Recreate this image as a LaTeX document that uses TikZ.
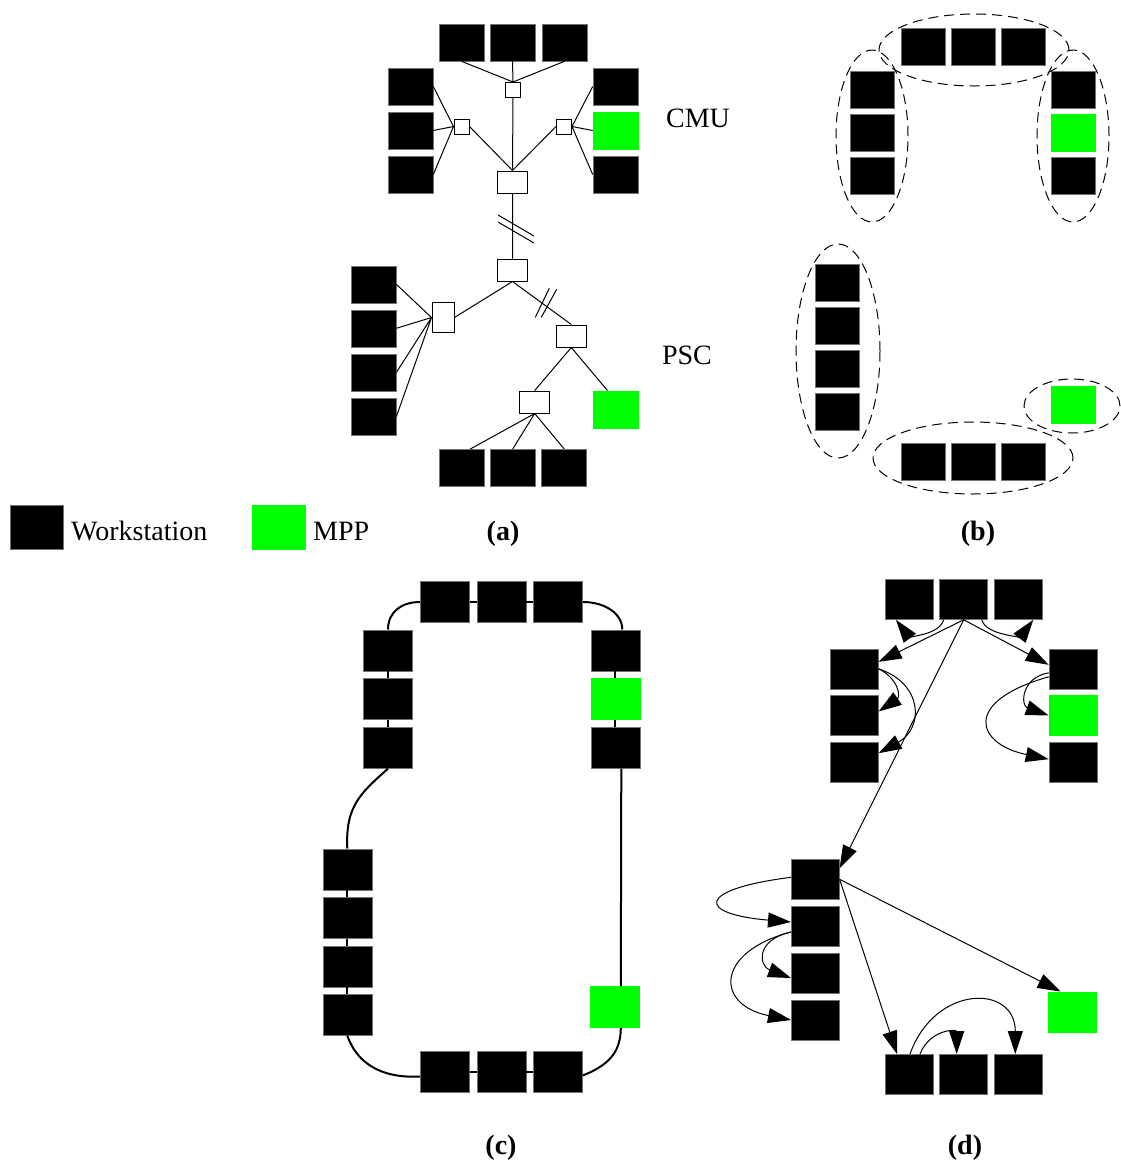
\documentclass[tikz,border=0pt]{standalone}
\usepackage{fontspec}
\setmainfont{Liberation Serif}
\usetikzlibrary{arrows.meta}
\definecolor{mppgreen}{RGB}{0,255,0}

\begin{document}
\begin{tikzpicture}[x=1pt,y=-1pt,
		lbl/.style={font=\fontsize{28}{34}\selectfont,inner sep=0pt},
		subcap/.style={font=\fontsize{28}{34}\selectfont\bfseries,inner sep=0pt,anchor=base},
		ws/.style={fill=black,draw=black!55,line width=0.6pt,inner sep=0pt},
		wsa/.style={ws,minimum width=45pt,minimum height=37pt},
		wsb/.style={ws,minimum width=44pt,minimum height=37pt},
		wsc/.style={ws,minimum width=49pt,minimum height=41pt},
		wsd/.style={ws,minimum width=48pt,minimum height=40pt},
		wsl/.style={ws,minimum width=53pt,minimum height=44pt},
		mpp/.style={fill=mppgreen,draw=mppgreen},
		hub/.style={draw,fill=white,line width=1pt,inner sep=0pt},
		hubs/.style={hub,minimum width=15pt,minimum height=15pt},
		rtr/.style={hub,minimum width=30pt,minimum height=22pt},
		rtv/.style={hub,minimum width=22pt,minimum height=30pt},
		link/.style={line width=1pt},
		grp/.style={line width=1pt,dash pattern=on 10pt off 6pt},
		ring/.style={line width=2pt},
		arr/.style={line width=1pt,-{Triangle[length=23pt,width=15pt]}}]
 		\useasboundingbox (0,0) rectangle (1120,1160);
 		% (a) CMU / PSC network
 		\node[wsa] (ta1) at (461.5,42.5) {};
 		\node[wsa] (ta2) at (512.5,42.5) {};
 		\node[wsa] (ta3) at (564.5,42.5) {};
 		\node[wsa] (la1) at (410.5,86.5) {};
 		\node[wsa] (la2) at (410.5,130.5) {};
 		\node[wsa] (la3) at (410.5,174.5) {};
 		\node[wsa] (ra1) at (615.5,86.5) {};
 		\node[wsa,mpp] (ra2) at (615.5,130.5) {};
 		\node[wsa] (ra3) at (615.5,174.5) {};
 		\node[hubs] (htop) at (513,90) {};
 		\node[hubs] (hleft) at (461.5,126.5) {};
 		\node[hubs] (hright) at (564,126.5) {};
 		\node[rtr] (rcmu) at (512.5,182) {};
 		\node[rtr] (rpsc) at (512.5,270) {};
 		\node[rtv] (rwest) at (443,317.5) {};
 		\node[rtr] (reast) at (571.3,336) {};
 		\node[rtr] (rlow) at (534.7,402) {};
 		\node[wsa] (pa1) at (373.5,284.3) {};
 		\node[wsa] (pa2) at (373.5,328.3) {};
 		\node[wsa] (pa3) at (373.5,372.5) {};
 		\node[wsa] (pa4) at (373.5,416.7) {};
 		\node[wsa,mpp] (pm) at (615.5,409.3) {};
 		\node[wsa] (pb1) at (461.3,467.8) {};
 		\node[wsa] (pb2) at (512.7,467.8) {};
 		\node[wsa] (pb3) at (564.2,467.8) {};
 		\draw[link] (ta1.south) -- (htop.north) (ta2.south) -- (htop.north) (ta3.south) -- (htop.north);
 		\draw[link] (htop.south) -- (rcmu.north) (hleft.east) -- (rcmu.north) (hright.west) -- (rcmu.north);
 		\draw[link] (la1.east) -- (hleft.west) (la2.east) -- (hleft.west) (la3.east) -- (hleft.west);
 		\draw[link] (hright.east) -- (ra1.west) (hright.east) -- (ra2.west) (hright.east) -- (ra3.west);
 		\draw[link] (rcmu.south) -- (rpsc.north) (rpsc.south) -- (rwest.east) (rpsc.south) -- (reast.north);
 		\draw[link] (rwest.west) -- (pa1.east) (rwest.west) -- (pa2.east) (rwest.west) -- (pa3.east) (rwest.west) -- (pa4.east);
 		\draw[link] (reast.south) -- (rlow.north) (reast.south) -- ([xshift=-8pt]pm.north);
 		\draw[link] (rlow.south) -- ([xshift=9pt]pb1.north) (rlow.south) -- (pb2.north) (rlow.south) -- (pb3.north);
 		\coordinate (cut1) at (516,229);
 		\coordinate (cut2) at (545.7,303);
 		\draw[link] ([shift={(-18,-14)}]cut1) -- ([shift={(18,7)}]cut1) ([shift={(-18,-7)}]cut1) -- ([shift={(18,14)}]cut1);
 		\draw[link] ([shift={(-10.4,14.3)}]cut2) -- ([shift={(3.6,-14.7)}]cut2) ([shift={(-4.4,14.3)}]cut2) -- ([shift={(11,-13.7)}]cut2);
 		\node[lbl,anchor=base] (cmu) at (698,127) {CMU};
 		\node[lbl,anchor=base] (psc) at (687,364) {PSC};
 		% legend
 		\node[wsl] (kws) at (37,527) {};
 		\node[lbl,anchor=base west] (tws) at (71,540) {Workstation};
 		\node[wsl,mpp] (kmpp) at (279,527) {};
 		\node[lbl,anchor=base west] (tmpp) at (313,540) {MPP};
 		\node[subcap] (capa) at (503,540) {(a)};
 		% (b) groups
 		\node[wsb] (tb1) at (923,46.5) {};
 		\node[wsb] (tb2) at (973,46.5) {};
 		\node[wsb] (tb3) at (1023,46.5) {};
 		\node[wsb] (lb1) at (872.7,89.3) {};
 		\node[wsb] (lb2) at (872.7,132.3) {};
 		\node[wsb] (lb3) at (872.7,175.3) {};
 		\node[wsb] (rb1) at (1073.3,89.3) {};
 		\node[wsb,mpp] (rb2) at (1073.3,132.3) {};
 		\node[wsb] (rb3) at (1073.3,175.3) {};
 		\node[wsb] (qb1) at (836.8,282.8) {};
 		\node[wsb] (qb2) at (836.8,325.8) {};
 		\node[wsb] (qb3) at (836.8,368.7) {};
 		\node[wsb] (qb4) at (836.8,411.8) {};
 		\node[wsb] (bb1) at (923,461.7) {};
 		\node[wsb] (bb2) at (973,461.7) {};
 		\node[wsb] (bb3) at (1023,461.7) {};
 		\node[wsb,mpp] (mb) at (1073,404.3) {};
 		\draw[grp] (974,50) ellipse (95pt and 36pt);
 		\draw[grp] (872,136) ellipse (36pt and 86pt);
 		\draw[grp] (1073,136) ellipse (36pt and 86pt);
 		\draw[grp] (838,351) ellipse (42pt and 107pt);
 		\draw[grp] (973,458) ellipse (100pt and 36pt);
 		\draw[grp] (1072,406) ellipse (48pt and 27pt);
 		\node[subcap] (capb) at (978,540) {(b)};
 		% (c) ring
 		\node[wsc] (tc1) at (444.7,602) {};
 		\node[wsc] (tc2) at (501.3,602) {};
 		\node[wsc] (tc3) at (558,602) {};
 		\node[wsc] (lc1) at (388,650.3) {};
 		\node[wsc] (lc2) at (388,699.2) {};
 		\node[wsc] (lc3) at (388,747.8) {};
 		\node[wsc] (rc1) at (615.3,650.3) {};
 		\node[wsc,mpp] (rc2) at (615.3,699.2) {};
 		\node[wsc] (rc3) at (615.3,747.8) {};
 		\node[wsc] (pc1) at (347.3,869.3) {};
 		\node[wsc] (pc2) at (347.3,917.8) {};
 		\node[wsc] (pc3) at (347.3,966.3) {};
 		\node[wsc] (pc4) at (347.3,1015) {};
 		\node[wsc,mpp] (mc) at (614.8,1007) {};
 		\node[wsc] (bc1) at (444.7,1071.5) {};
 		\node[wsc] (bc2) at (501.3,1071.5) {};
 		\node[wsc] (bc3) at (558,1071.5) {};
 		\draw[ring] (lc1.north) .. controls +(0,-18) and +(-18,0) .. (tc1.west);
 		\draw[ring] (tc1.east) -- (tc2.west) (tc2.east) -- (tc3.west);
 		\draw[ring] (tc3.east) .. controls +(22,0) and +(0,-16) .. ([xshift=7pt]rc1.north);
 		\draw[ring] (rc1.south) -- (rc2.north) (rc2.south) -- (rc3.north);
 		\draw[ring] ([xshift=6pt]rc3.south) -- ([xshift=6pt]mc.north);
 		\draw[ring] (lc1.south) -- (lc2.north) (lc2.south) -- (lc3.north);
 		\draw[ring] (lc3.south) .. controls +(-28,25) and +(-2,-42) .. (pc1.north);
 		\draw[ring] (pc1.south) -- (pc2.north) (pc2.south) -- (pc3.north) (pc3.south) -- (pc4.north);
 		\draw[ring] (pc4.south) .. controls +(10,28) and +(-38,2) .. ([yshift=-5pt]bc1.west);
 		\draw[ring] (bc1.east) -- (bc2.west) (bc2.east) -- (bc3.west);
 		\draw[ring] ([yshift=-4pt]bc3.east) .. controls +(25,-10) and +(0,25) .. ([xshift=6pt]mc.south);
 		\node[subcap] (capc) at (501,1154) {(c)};
 		% (d) spanning tree
 		\node[wsd] (td1) at (909,599.5) {};
 		\node[wsd] (td2) at (963.7,599.5) {};
 		\node[wsd] (td3) at (1018.3,599.5) {};
 		\node[wsd] (ld1) at (854.3,668.8) {};
 		\node[wsd] (ld2) at (854.3,715.5) {};
 		\node[wsd] (ld3) at (854.3,762.2) {};
 		\node[wsd] (rd1) at (1073,668.8) {};
 		\node[wsd,mpp] (rd2) at (1073,715.5) {};
 		\node[wsd] (rd3) at (1073,762.2) {};
 		\node[wsd] (pd1) at (815.3,879.3) {};
 		\node[wsd] (pd2) at (815.3,926) {};
 		\node[wsd] (pd3) at (815.3,973) {};
 		\node[wsd] (pd4) at (815.3,1020) {};
 		\node[wsd,mpp] (md) at (1072.5,1011.8) {};
 		\node[wsd] (bd1) at (909,1074.3) {};
 		\node[wsd] (bd2) at (963.7,1074.3) {};
 		\node[wsd] (bd3) at (1018.3,1074.3) {};
 		\draw[arr] (td2.south) -- ([yshift=7pt]ld1.east);
 		\draw[arr] (td2.south) -- ([yshift=4pt]rd1.west);
 		\draw[arr] (td2.south) -- ([yshift=11pt]pd1.east);
 		\draw[arr] ([xshift=-20pt]td2.south) .. controls +(-5,16) and +(12,16) .. ([xshift=-13pt]td1.south);
 		\draw[arr] ([xshift=18pt]td2.south) .. controls +(5,16) and +(-12,16) .. ([xshift=15pt]td3.south);
 		\draw[arr] (ld1.east) .. controls +(20,10) and +(22,-15) .. ([yshift=4pt]ld2.east);
 		\draw[arr] (ld1.east) .. controls +(45,15) and +(45,-25) .. ([yshift=9pt]ld3.east);
 		\draw[arr] ([yshift=-4pt]rd1.west) .. controls +(-28,5) and +(-28,-10) .. (rd2.west);
 		\draw[arr] ([yshift=-8pt]rd1.west) .. controls +(-88,25) and +(-72,-15) .. ([yshift=3pt]rd3.west);
 		\draw[arr] (pd1.east) -- ([xshift=-12pt]bd1.north);
 		\draw[arr] (pd1.east) -- ([xshift=-12pt]md.north);
 		\draw[arr] ([yshift=2pt]pd1.west) .. controls +(-95,12) and +(-95,-8) .. ([yshift=4pt]pd2.west);
 		\draw[arr] ([yshift=-6pt]pd2.west) .. controls +(-36,8) and +(-32,-12) .. ([yshift=-5pt]pd3.west);
 		\draw[arr] ([yshift=-6pt]pd2.west) .. controls +(-76,20) and +(-76,-15) .. (pd4.west);
 		\draw[arr] ([xshift=1pt]bd1.north) .. controls +(25,-70) and +(0,-70) .. ([xshift=-3pt]bd3.north);
 		\draw[arr] ([xshift=11pt]bd1.north) .. controls +(10,-25) and +(0,-25) .. ([xshift=-7pt]bd2.north);
 		\node[subcap] (capd) at (965,1154) {(d)};
 	\end{tikzpicture}
\end{document}
